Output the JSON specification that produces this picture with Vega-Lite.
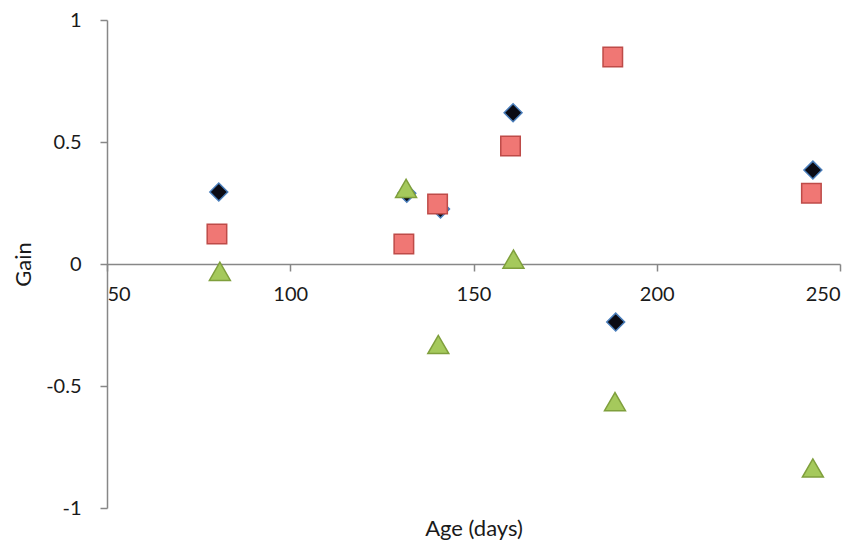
{
  "$schema": "https://vega.github.io/schema/vega-lite/v6.json",
  "width": 733,
  "height": 488,
  "autosize": {"type": "none"},
  "padding": {"left": 107, "top": 20, "right": 20, "bottom": 33},
  "background": "white",
  "config": {
    "view": {"stroke": null},
    "font": "Lato",
    "axis": {
      "grid": false,
      "domainColor": "#878787",
      "domainWidth": 1.5,
      "tickColor": "#878787",
      "tickWidth": 1.5,
      "tickSize": 7,
      "labelFont": "Lato",
      "labelFontSize": 20,
      "labelColor": "#1a1a1a",
      "labelExpr": "toString(datum.value)",
      "titleFont": "Lato",
      "titleFontSize": 22,
      "titleFontWeight": "normal",
      "titleColor": "#1a1a1a"
    }
  },
  "data": {
    "values": [
      {"series": "A", "age": 80.5, "gain": 0.295},
      {"series": "A", "age": 131.8, "gain": 0.29},
      {"series": "A", "age": 141, "gain": 0.225},
      {"series": "A", "age": 160.8, "gain": 0.62},
      {"series": "A", "age": 188.8, "gain": -0.238},
      {"series": "A", "age": 242.6, "gain": 0.385},
      {"series": "B", "age": 80, "gain": 0.123},
      {"series": "B", "age": 131, "gain": 0.082},
      {"series": "B", "age": 140.2, "gain": 0.246},
      {"series": "B", "age": 160.1, "gain": 0.484},
      {"series": "B", "age": 188, "gain": 0.848},
      {"series": "B", "age": 242.2, "gain": 0.29},
      {"series": "C", "age": 80.8, "gain": -0.03},
      {"series": "C", "age": 131.6, "gain": 0.31},
      {"series": "C", "age": 140.4, "gain": -0.33},
      {"series": "C", "age": 160.9, "gain": 0.02},
      {"series": "C", "age": 188.6, "gain": -0.564},
      {"series": "C", "age": 242.6, "gain": -0.836}
    ]
  },
  "mark": {"type": "point", "filled": true, "strokeWidth": 1.5, "opacity": 1},
  "encoding": {
    "x": {
      "field": "age",
      "type": "quantitative",
      "scale": {"domain": [50, 250], "nice": false, "zero": false},
      "axis": {
        "values": [50, 100, 150, 200, 250],
        "offset": -244,
        "labelPadding": 13,
        "title": "Age (days)",
        "titleY": 264,
        "titleBaseline": "middle",
        "titleAnchor": "middle"
      }
    },
    "y": {
      "field": "gain",
      "type": "quantitative",
      "scale": {"domain": [-1, 1], "nice": false},
      "axis": {
        "values": [-1, -0.5, 0, 0.5, 1],
        "labelPadding": 19,
        "title": "Gain",
        "titleX": -84,
        "titleY": 244,
        "titleAngle": -90,
        "titleAlign": "center",
        "titleBaseline": "middle"
      }
    },
    "shape": {
      "field": "series",
      "type": "nominal",
      "scale": {"domain": ["A", "B", "C"], "range": ["diamond", "square", "triangle-up"]},
      "legend": null
    },
    "fill": {
      "field": "series",
      "type": "nominal",
      "scale": {"domain": ["A", "B", "C"], "range": ["#0b0b14", "#f07774", "#a5c95c"]},
      "legend": null
    },
    "stroke": {
      "field": "series",
      "type": "nominal",
      "scale": {"domain": ["A", "B", "C"], "range": ["#4a7ebb", "#be4b48", "#7f9f3c"]},
      "legend": null
    },
    "size": {
      "field": "series",
      "type": "nominal",
      "scale": {"domain": ["A", "B", "C"], "range": [320, 440, 500]},
      "legend": null
    }
  }
}
